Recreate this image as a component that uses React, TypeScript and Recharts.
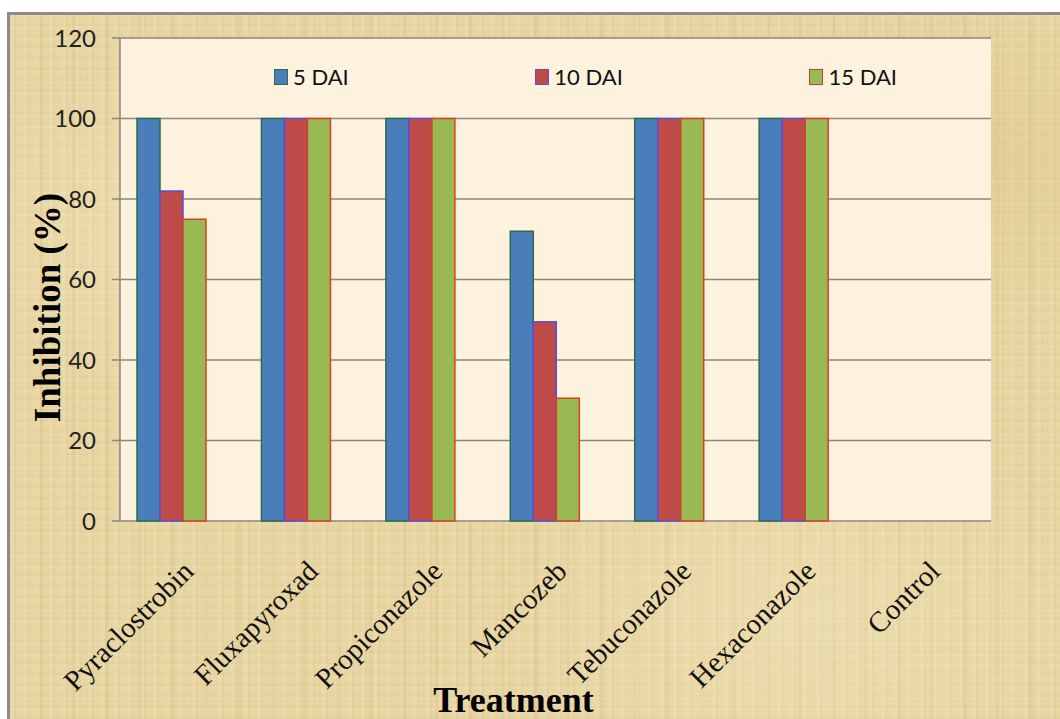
import { BarChart, Bar, XAxis, YAxis, CartesianGrid, Legend, Label } from "recharts";

const treatments = ["Pyraclostrobin", "Fluxapyroxad", "Propiconazole", "Mancozeb", "Tebuconazole", "Hexaconazole", "Control"];
const dai5 = [100, 100, 100, 72, 100, 100, 0];
const dai10 = [82, 100, 100, 49.5, 100, 100, 0];
const dai15 = [75, 100, 100, 30.5, 100, 100, 0];
const yTicks = [0, 20, 40, 60, 80, 100, 120];
const edgeTicks = [0, 1, 2, 3, 4, 5, 6, 7];

const series = [
  { key: "dai5", name: "5 DAI", fill: "#4A7EBB", stroke: "#2E6B4A" },
  { key: "dai10", name: "10 DAI", fill: "#BE4B48", stroke: "#5B4FD6" },
  { key: "dai15", name: "15 DAI", fill: "#98B954", stroke: "#D8401F" },
];

const data = treatments.map((name, i) => ({
  name,
  dai5: dai5[i],
  dai10: dai10[i],
  dai15: dai15[i],
}));

// soft papyrus-like weave
const parchment =
  "radial-gradient(ellipse 260px 180px at 20% 30%, rgba(250,238,200,0.35), transparent)," +
  "radial-gradient(ellipse 300px 200px at 75% 85%, rgba(250,238,200,0.30), transparent)," +
  "radial-gradient(ellipse 220px 160px at 90% 20%, rgba(205,180,110,0.25), transparent)," +
  "repeating-linear-gradient(90deg, rgba(255,246,215,0.10) 0px, rgba(255,246,215,0.10) 4px, rgba(170,140,70,0.06) 4px, rgba(170,140,70,0.06) 6px, transparent 6px, transparent 13px)," +
  "repeating-linear-gradient(90deg, transparent 0px, transparent 29px, rgba(160,130,60,0.07) 29px, rgba(160,130,60,0.07) 33px)," +
  "repeating-linear-gradient(0deg, rgba(255,246,215,0.08) 0px, rgba(255,246,215,0.08) 3px, rgba(160,130,60,0.04) 3px, rgba(160,130,60,0.04) 5px, transparent 5px, transparent 11px)," +
  "#E7D5A2";

function CategoryTick({ x, y, payload }: any) {
  return (
    <text
      transform={`translate(${x + 13},${y + 52}) rotate(-45)`}
      textAnchor="end"
      fontFamily="'Liberation Serif', serif"
      fontSize={29}
      fill="#111"
    >
      {payload.value}
    </text>
  );
}

function LegendRow() {
  return (
    <div
      style={{
        position: "absolute",
        left: 274,
        top: 63,
        width: 623,
        display: "flex",
        justifyContent: "space-between",
        alignItems: "center",
        fontFamily: "Lato, sans-serif",
        fontSize: 22,
        color: "#111",
      }}
    >
      {series.map((s) => (
        <div key={s.key} style={{ display: "flex", alignItems: "center" }}>
          <span
            style={{
              display: "inline-block",
              width: 12,
              height: 14,
              background: s.fill,
              border: `1.5px solid ${s.stroke}`,
              marginRight: 5,
            }}
          />
          <span>{s.name}</span>
        </div>
      ))}
    </div>
  );
}

export default function App() {
  return (
    <div style={{ position: "absolute", left: 0, top: 0, width: 1060, height: 719, background: "#fff", overflow: "hidden" }}>
      <div
        style={{
          position: "absolute",
          left: 7,
          top: 12,
          width: 1053,
          height: 707,
          borderTop: "3px solid #8E8A8C",
          borderLeft: "3px solid #8E8A8C",
          background: parchment,
        }}
      />
      <div style={{ position: "absolute", left: 0, top: 0 }}>
        <BarChart
          width={1060}
          height={719}
          data={data}
          margin={{ top: 38, right: 69, bottom: 0, left: 0 }}
          barGap={0}
        >
          <CartesianGrid vertical={false} stroke="#8B8680" strokeWidth={1.5} fill="#FCF2DE" fillOpacity={1} />
          <XAxis
            xAxisId="edges"
            type="number"
            domain={[0, 7]}
            ticks={edgeTicks}
            height={0}
            tick={false}
            tickSize={6}
            stroke="#8B8680"
            strokeWidth={1.5}
          />
          <XAxis
            xAxisId="cat"
            dataKey="name"
            height={198}
            axisLine={false}
            tickLine={false}
            tickSize={0}
            tickMargin={0}
            interval={0}
            tick={<CategoryTick />}
          >
            <Label
              content={({ viewBox }: any) => (
                <text
                  x={viewBox.x + viewBox.width / 2 - 42}
                  y={712}
                  textAnchor="middle"
                  fontFamily="'Liberation Serif', serif"
                  fontWeight="bold"
                  fontSize={36}
                  fill="#000"
                >
                  Treatment
                </text>
              )}
            />
          </XAxis>
          <YAxis
            width={120}
            domain={[0, 120]}
            ticks={yTicks}
            tickSize={8}
            tickMargin={16}
            stroke="#8B8680"
            strokeWidth={1.5}
            tick={{ fontFamily: "Lato, sans-serif", fontSize: 24, fill: "#222" }}
          >
            <Label
              content={({ viewBox }: any) => {
                const cx = 47;
                const cy = viewBox.y + viewBox.height / 2 + 28;
                return (
                  <text
                    x={cx}
                    y={cy}
                    transform={`rotate(-90,${cx},${cy})`}
                    textAnchor="middle"
                    dominantBaseline="central"
                    fontFamily="'Liberation Serif', serif"
                    fontWeight="bold"
                    fontSize={37}
                    fill="#000"
                  >
                    Inhibition (%)
                  </text>
                );
              }}
            />
          </YAxis>
          <Legend content={() => null} />
          {series.map((s) => (
            <Bar
              key={s.key}
              xAxisId="cat"
              dataKey={s.key}
              name={s.name}
              fill={s.fill}
              stroke={s.stroke}
              strokeWidth={1.5}
              barSize={23}
              isAnimationActive={false}
            />
          ))}
          <Bar xAxisId="cat" dataKey="spacer" barSize={21} legendType="none" isAnimationActive={false} />
        </BarChart>
      </div>
      <LegendRow />
    </div>
  );
}
